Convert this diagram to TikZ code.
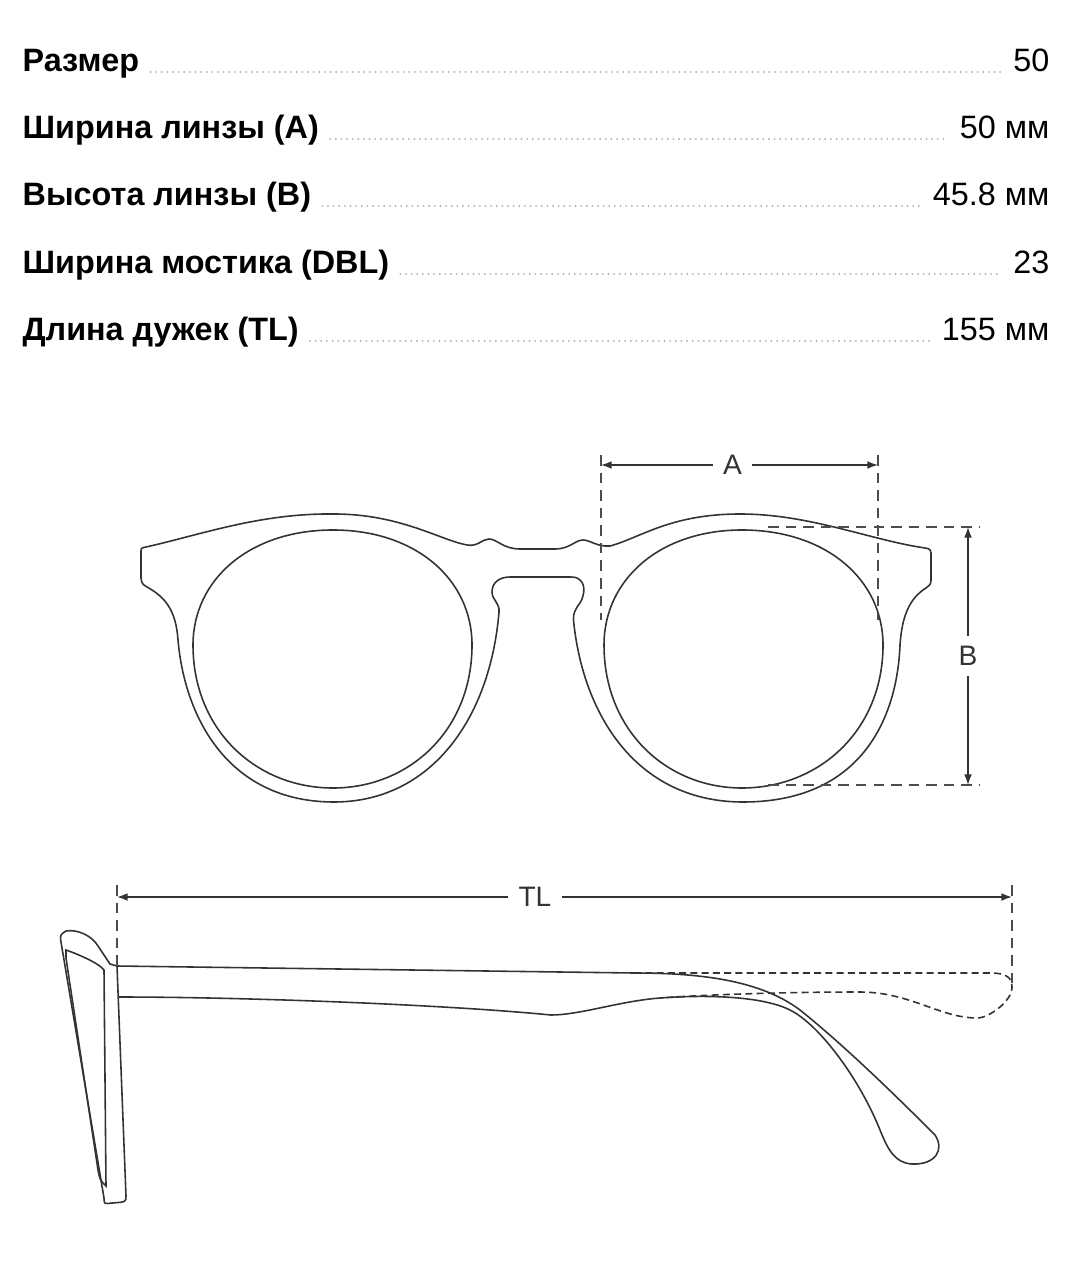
\documentclass[tikz,border=0pt]{standalone}
\usepackage{fontspec}
\setmainfont{Liberation Sans}
\usetikzlibrary{arrows.meta}
\tikzset{
  lbl/.style={anchor=base west,inner sep=0pt,font=\fontsize{9.2pt}{10pt}\selectfont\bfseries},
  val/.style={anchor=base east,inner sep=0pt,font=\fontsize{9.2pt}{10pt}\selectfont},
  leader/.style={draw=gray!60,line width=0.6pt,line cap=round,dash pattern=on 0pt off 1.6pt},
  outline/.style={line width=0.45pt,black!80},
  guide/.style={line width=0.4pt,black!70,dash pattern=on 3pt off 2pt},
  dimline/.style={line width=0.4pt,black!80,{Latex[length=3pt,width=2.2pt]}-{Latex[length=3pt,width=2.2pt]}},
  dimtext/.style={fill=white,inner sep=3pt,font=\fontsize{8pt}{9pt}\selectfont}
}
\begin{document}
\begin{tikzpicture}[x=0.01cm,y=-0.01cm]
  \useasboundingbox (0,0) rectangle (1080,1280);
  % table of sizes
  \foreach \i/\name/\num/\y in {1/Размер/50/72, 2/Ширина линзы (A)/50 мм/139,
      3/Высота линзы (B)/45.8 мм/206, 4/Ширина мостика (DBL)/23/274, 5/Длина дужек (TL)/155 мм/341}{
    \node[lbl] (lbl\i) at (22,\y) {\name};
    \node[val] (val\i) at (1050,\y) {\num};
    \draw[leader] ([xshift=3pt]lbl\i.base east) -- ([xshift=-3pt]val\i.base west);
  }
  % front view
  \draw[outline] (141,552) .. controls (141,548) .. (146,547) .. controls (200,535) and (260,513) .. (334,514)
    .. controls (400,514) and (440,540) .. (467,545) .. controls (478,547) and (482,539) .. (489,539)
    .. controls (497,539) and (503,549) .. (520,549) -- (555,549) .. controls (570,549) and (575,540) .. (583,540)
    .. controls (590,540) and (597,547) .. (610,546) .. controls (640,538) and (670,514) .. (740,514)
    .. controls (810,514) and (870,540) .. (925,548) .. controls (930,549) .. (931,553) -- (931,578)
    .. controls (931,584) .. (926,588) .. controls (910,598) and (902,615) .. (900,645)
    .. controls (897,720) and (860,802) .. (743,802) .. controls (640,802) and (585,720) .. (574,625)
    .. controls (573,615) .. (577,607) .. controls (585,598) and (586,585) .. (580,580)
    .. controls (576,577) .. (565,577) -- (510,577) .. controls (500,577) and (492,582) .. (492,592)
    .. controls (492,600) and (500,603) .. (499,612) .. controls (490,720) and (430,802) .. (334,802)
    .. controls (230,802) and (185,720) .. (178,640) .. controls (176,610) and (165,597) .. (147,587)
    .. controls (142,584) .. (141,578) -- cycle;
  \foreach \cx/\l/\r in {333/193/472, 742/604/883}{
    \draw[outline] (\cx,530) .. controls ({\cx+0.6*(\r-\cx)},530) and (\r,580) .. (\r,645)
      .. controls (\r,730) and ({\cx+0.55*(\r-\cx)},788) .. (\cx,788)
      .. controls ({\cx-0.55*(\cx-\l)},788) and (\l,730) .. (\l,645)
      .. controls (\l,580) and ({\cx-0.6*(\cx-\l)},530) .. (\cx,530);
  }
  % dimension A
  \coordinate (a1) at (601,465); \coordinate (a2) at (878,465);
  \draw[guide] (601,455) -- (601,620);
  \draw[guide] (878,455) -- (878,620);
  \draw[dimline] (a1) -- (a2) node[dimtext,midway,xshift=-2pt] (dimA) {A};
  % dimension B
  \coordinate (b1) at (968,527); \coordinate (b2) at (968,785);
  \draw[guide] (768,527) -- (980,527);
  \draw[guide] (768,785) -- (980,785);
  \draw[dimline] (b1) -- (b2) node[dimtext,midway] (dimB) {B};
  % side view
  \draw[outline] (66,931) .. controls (78,929) and (92,936) .. (98,946) -- (110,964) -- (117,966)
    -- (126,1196) .. controls (126,1202) .. (112,1203) .. controls (104,1204) .. (104,1198)
    -- (61,942) .. controls (60,935) .. (66,931);
  \draw[outline] (66,950) .. controls (72,952) and (98,962) .. (104,970) -- (106,1186)
    .. controls (100,1180) .. (98,1170) -- (66,958) -- cycle;
  \draw[outline] (117,966) -- (634,973) .. controls (700,973) and (760,980) .. (800,1010)
    .. controls (850,1050) and (910,1110) .. (935,1135) .. controls (945,1150) and (935,1165) .. (912,1164)
    .. controls (895,1163) and (888,1150) .. (880,1130) .. controls (860,1080) and (820,1025) .. (790,1010)
    .. controls (760,995) and (700,995) .. (660,998) .. controls (620,1001) and (580,1015) .. (551,1015)
    .. controls (450,1005) and (250,997) .. (118,997);
  \draw[outline,dash pattern=on 2pt off 1.2pt] (634,973) -- (990,973) .. controls (1010,973) and (1012,980) .. (1012,988)
    .. controls (1012,1000) and (990,1018) .. (977,1018) .. controls (940,1018) and (910,992) .. (860,992)
    .. controls (780,992) and (700,995) .. (660,998);
  % dimension TL
  \coordinate (t1) at (117,897); \coordinate (t2) at (1012,897);
  \draw[guide] (117,885) -- (117,966);
  \draw[guide] (1012,885) -- (1012,985);
  \draw[dimline] (t1) -- (t2) node[dimtext,pos=0.467] (dimTL) {TL};
\end{tikzpicture}
\end{document}
